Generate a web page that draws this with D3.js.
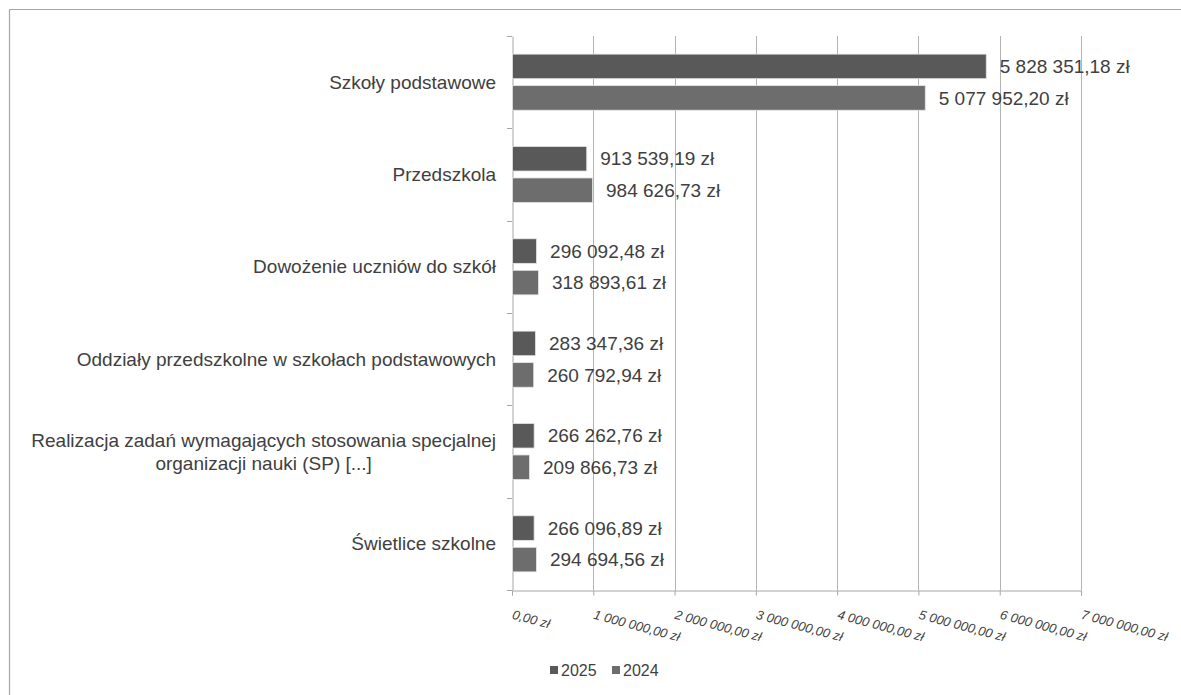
<!DOCTYPE html>
<html>
<head>
<meta charset="utf-8">
<script src="https://cdn.jsdelivr.net/npm/d3@7"></script>
<style>
  html, body { margin: 0; padding: 0; background: #fff; }
  svg { display: block; font-family: "Liberation Sans", Arial, sans-serif; }
</style>
</head>
<body>
<svg id="chart" width="1181" height="695"></svg>
<script>
const categories = [
  ["Szkoły podstawowe"],
  ["Przedszkola"],
  ["Dowożenie uczniów do szkół"],
  ["Oddziały przedszkolne w szkołach podstawowych"],
  ["Realizacja zadań wymagających stosowania specjalnej", "organizacji nauki (SP) [...]"],
  ["Świetlice szkolne"]
];
const seriesNames = ["2025", "2024"];
const values2025 = [5828351.18, 913539.19, 296092.48, 283347.36, 266262.76, 266096.89];
const values2024 = [5077952.20, 984626.73, 318893.61, 260792.94, 209866.73, 294694.56];
const xTicks = [0, 1000000, 2000000, 3000000, 4000000, 5000000, 6000000, 7000000];
const colors = ["#595959", "#6d6d6d"];

(function () {
const svg = d3.select("#chart");
const textColor = "#404040";

// frame (top and left edges)
svg.append("line").attr("x1", 9.5).attr("x2", 1181).attr("y1", 9.5).attr("y2", 9.5)
  .attr("stroke", "#a6a6a6").attr("stroke-width", 1.2);
svg.append("line").attr("x1", 9.5).attr("x2", 9.5).attr("y1", 9.5).attr("y2", 695)
  .attr("stroke", "#a6a6a6").attr("stroke-width", 1.2);

const pLeft = 512, pRight = 1081, pTop = 36, pBottom = 590;

const x = d3.scaleLinear().domain([0, 7000000]).range([pLeft, pRight]);
const y = d3.scaleBand().domain(d3.range(categories.length)).range([pTop, pBottom]).paddingInner(0).paddingOuter(0);
const yInner = d3.scaleBand().domain(seriesNames).range([0, y.bandwidth()]).paddingInner(0.22).paddingOuter(0.575);

const fmt = v => {
  const parts = v.toFixed(2).split(".");
  const int = parts[0].replace(/\B(?=(\d{3})+(?!\d))/g, " ");
  return int + "," + parts[1] + " zł";
};

// gridlines
svg.append("g").selectAll("line").data(xTicks.slice(1)).join("line")
  .attr("x1", d => Math.round(x(d)) + 0.5).attr("x2", d => Math.round(x(d)) + 0.5)
  .attr("y1", pTop).attr("y2", pBottom)
  .attr("stroke", "#b3b3b3").attr("stroke-width", 1);

// x axis
const xAxis = d3.axisBottom(x).tickValues(xTicks).tickSize(5).tickFormat(fmt);
const gx = svg.append("g").attr("transform", `translate(0,${pBottom + 0.5})`).call(xAxis);
gx.select(".domain").attr("stroke", "#a6a6a6");
gx.selectAll(".tick line").attr("stroke", "#a6a6a6");
gx.selectAll(".tick text")
  .attr("fill", textColor)
  .attr("font-size", 13)
  .attr("font-style", "italic")
  .attr("text-anchor", "start")
  .attr("dy", null)
  .attr("y", null)
  .attr("transform", "translate(-1,28) rotate(15)");

// y axis
const yAxis = d3.axisLeft(y).tickValues([]).tickSize(0);
const gy = svg.append("g").attr("transform", `translate(${pLeft + 0.5},0)`).call(yAxis);
gy.select(".domain").attr("stroke", "#a6a6a6");
const boundaries = d3.range(categories.length + 1).map(i => pTop + i * y.step());
svg.append("g").selectAll("line").data(boundaries).join("line")
  .attr("x1", pLeft - 5).attr("x2", pLeft)
  .attr("y1", d => Math.round(d) + 0.5).attr("y2", d => Math.round(d) + 0.5)
  .attr("stroke", "#a6a6a6");

// category labels (block right-aligned, lines centred within block)
const catG = svg.append("g");
const labelRight = 496;
categories.forEach((lines, i) => {
  const cy = y(i) + y.bandwidth() / 2;
  const lh = 23;
  const t = catG.append("text")
    .attr("fill", textColor).attr("font-size", 19)
    .attr("text-anchor", "middle");
  const spans = lines.map((ln, j) => t.append("tspan")
      .attr("y", cy + (j - (lines.length - 1) / 2) * lh)
      .attr("dy", "0.35em").text(ln));
  const maxW = d3.max(spans, s => s.node().getComputedTextLength());
  spans.forEach(s => s.attr("x", labelRight - maxW / 2));
});

// bars
const data = [];
categories.forEach((c, i) => {
  data.push({ i, s: "2025", v: values2025[i] });
  data.push({ i, s: "2024", v: values2024[i] });
});
const color = d3.scaleOrdinal().domain(seriesNames).range(colors);

svg.append("g").selectAll("rect").data(data).join("rect")
  .attr("x", x(0) + 0.5)
  .attr("y", d => y(d.i) + yInner(d.s))
  .attr("width", d => x(d.v) - x(0))
  .attr("height", yInner.bandwidth())
  .attr("fill", d => color(d.s))
  .attr("stroke", "#e6e6e6").attr("stroke-width", 0.8);

svg.append("g").selectAll("text").data(data).join("text")
  .attr("x", d => x(d.v) + 14)
  .attr("y", d => y(d.i) + yInner(d.s) + yInner.bandwidth() / 2)
  .attr("dy", "0.35em")
  .attr("fill", textColor).attr("font-size", 19)
  .text(d => fmt(d.v));

// legend
const legend = svg.append("g");
const legendItems = [{ s: "2025", x: 550 }, { s: "2024", x: 612 }];
legend.selectAll("rect").data(legendItems).join("rect")
  .attr("x", d => d.x).attr("y", 666).attr("width", 8).attr("height", 8)
  .attr("fill", d => color(d.s));
legend.selectAll("text").data(legendItems).join("text")
  .attr("x", d => d.x + 11).attr("y", 670).attr("dy", "0.35em")
  .attr("fill", textColor).attr("font-size", 16)
  .text(d => d.s);
})();
</script>
</body>
</html>
